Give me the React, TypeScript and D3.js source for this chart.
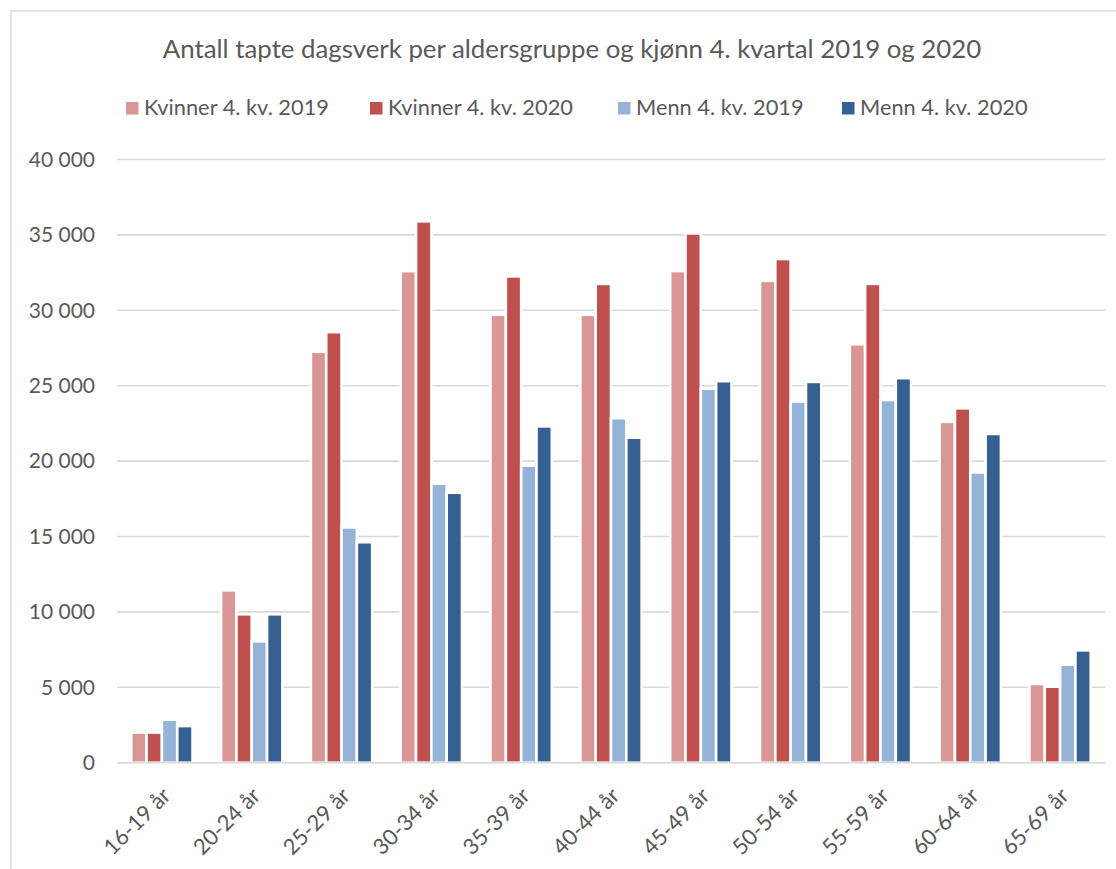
import React, { useMemo } from "react";
import * as d3 from "d3";

const WIDTH = 1116;
const HEIGHT = 869;

const title = "Antall tapte dagsverk per aldersgruppe og kjønn 4. kvartal 2019 og 2020";

const categories = [
  "16-19 år",
  "20-24 år",
  "25-29 år",
  "30-34 år",
  "35-39 år",
  "40-44 år",
  "45-49 år",
  "50-54 år",
  "55-59 år",
  "60-64 år",
  "65-69 år",
];

const seriesNames = [
  "Kvinner 4. kv. 2019",
  "Kvinner 4. kv. 2020",
  "Menn 4. kv. 2019",
  "Menn 4. kv. 2020",
];

const kvinner2019 = [2000, 11430, 27250, 32600, 29700, 29700, 32600, 31950, 27750, 22600, 5220];
const kvinner2020 = [2000, 9840, 28550, 35900, 32250, 31750, 35100, 33400, 31750, 23500, 5040];
const menn2019 = [2850, 8050, 15600, 18500, 19700, 22850, 24800, 23950, 24050, 19250, 6500];
const menn2020 = [2430, 9840, 14620, 17900, 22300, 21550, 25300, 25250, 25500, 21800, 7450];

const yTicks = [0, 5000, 10000, 15000, 20000, 25000, 30000, 35000, 40000];

const colors = ["#da9694", "#c0504d", "#95b3d7", "#366092"];

const FONT = "Lato, 'Open Sans', sans-serif";
const TEXT = "#595959";
const GRID = "#d9d9d9";

const MARGIN = { left: 117, right: 11, top: 159.5, bottom: 106.3 };

// legend item x positions (layout only)
const legendX = [126, 370, 618, 842];

const nbLocale = d3.formatLocale({
  decimal: ",",
  thousands: "\u202f",
  grouping: [3],
  currency: ["", ""],
});
const fmt = nbLocale.format(",d");

export default function App() {
  const allSeries = [kvinner2019, kvinner2020, menn2019, menn2020];

  const x0 = useMemo(
    () =>
      d3
        .scaleBand<string>()
        .domain(categories)
        .range([MARGIN.left, WIDTH - MARGIN.right])
        .paddingInner(0.3175)
        .paddingOuter(0.3175 / 2),
    []
  );

  const x1 = useMemo(
    () => d3.scaleBand<string>().domain(seriesNames).range([0, x0.bandwidth()]).padding(0),
    [x0]
  );

  const y = useMemo(
    () => d3.scaleLinear().domain([0, 40000]).range([HEIGHT - MARGIN.bottom, MARGIN.top]),
    []
  );

  return (
    <svg
      width={WIDTH}
      height={HEIGHT}
      style={{ position: "absolute", left: 0, top: 0, background: "#fff" }}
      fontFamily={FONT}
    >
      <rect x={11} y={11} width={1200} height={1000} fill="#fff" stroke={GRID} strokeWidth={1.5} />

      <text x={572} y={58} textAnchor="middle" fontSize={25.8} fill={TEXT}>
        {title}
      </text>

      {seriesNames.map((name, i) => (
        <g key={name} transform={`translate(${legendX[i]},0)`}>
          <rect x={0} y={102} width={12.5} height={12.5} fill={colors[i]} />
          <text x={18} y={114.5} fontSize={21.8} fill={TEXT}>
            {name}
          </text>
        </g>
      ))}

      {yTicks.map((t) => (
        <g key={t}>
          <line
            x1={MARGIN.left}
            x2={WIDTH - MARGIN.right}
            y1={y(t)}
            y2={y(t)}
            stroke={GRID}
            strokeWidth={1.6}
          />
          <text
            x={95}
            y={y(t)}
            dy="0.35em"
            textAnchor="end"
            fontSize={21}
            fill={TEXT}
          >
            {fmt(t)}
          </text>
        </g>
      ))}

      {categories.map((cat, ci) => (
        <g key={cat} transform={`translate(${x0(cat)},0)`}>
          {allSeries.map((values, si) => (
            <rect
              key={seriesNames[si]}
              x={x1(seriesNames[si])}
              y={y(values[ci])}
              width={x1.bandwidth()}
              height={y(0) - y(values[ci])}
              fill={colors[si]}
              stroke="#fff"
              strokeWidth={2.6}
            />
          ))}
        </g>
      ))}

      <line
        x1={MARGIN.left}
        x2={WIDTH - MARGIN.right}
        y1={y(0)}
        y2={y(0)}
        stroke={GRID}
        strokeWidth={1.6}
      />

      {categories.map((cat) => {
        const cx = (x0(cat) ?? 0) + x0.bandwidth() / 2 + 10;
        const cy = 797;
        return (
          <text
            key={cat}
            x={cx}
            y={cy}
            textAnchor="end"
            fontSize={22}
            fill={TEXT}
            transform={`rotate(-45 ${cx} ${cy})`}
          >
            {cat}
          </text>
        );
      })}
    </svg>
  );
}
